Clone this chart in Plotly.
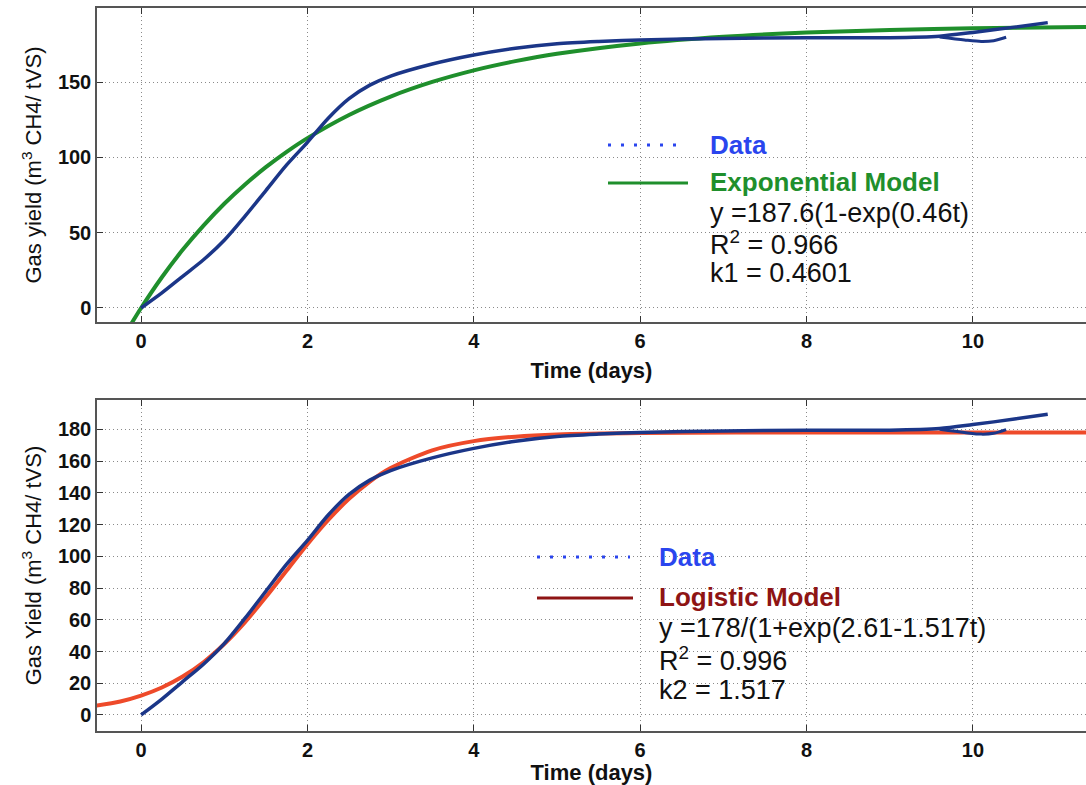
import plotly.graph_objects as go

# ---------------- data ----------------
data_t = [0, 0.25, 0.5, 0.75, 1.0, 1.25, 1.5, 1.75, 2.0, 2.25, 2.5, 2.75, 3.0, 3.5,
          4.0, 4.5, 5.0, 5.5, 6.0, 7.0, 8.0, 9.0, 9.6, 10.0, 10.5, 10.9]
data_y = [0, 10, 21, 32, 45, 61, 78, 95, 110, 126, 139, 148, 154, 162,
          168, 172.5, 175.5, 177, 178, 179, 179.5, 179.5, 180.5, 183, 186.5, 189.5]
# second (returning) branch of the recorded data near the end
data2_t = [9.6, 9.9, 10.1, 10.25, 10.4]
data2_y = [180.0, 178.0, 177.0, 177.5, 179.8]

exp_t = [-0.15, 0, 0.25, 0.5, 0.75, 1.0, 1.25, 1.5, 1.75, 2.0, 2.5, 3.0, 3.5, 4.0,
         4.5, 5.0, 6.0, 7.0, 8.0, 9.0, 10.0, 11.4]
exp_y = [-13.4, 0, 20.4, 38.6, 54.7, 69.2, 82.0, 93.5, 103.7, 112.8, 128.2, 140.4,
         150.1, 157.8, 163.9, 168.8, 175.7, 180.1, 182.9, 184.6, 185.7, 186.6]

log_t = [-0.6, -0.25, 0, 0.25, 0.5, 0.75, 1.0, 1.25, 1.5, 1.75, 2.0, 2.25, 2.5, 2.75,
         3.0, 3.5, 4.0, 4.5, 5.0, 6.0, 8.0, 11.4]
log_y = [5.4, 8.5, 12.2, 17.3, 24.2, 33.2, 44.7, 58.5, 74.3, 91.0, 107.6, 122.9,
         136.2, 147.1, 155.6, 166.8, 172.6, 175.4, 176.8, 177.7, 178.0, 178.0]

x_ticks = [0, 2, 4, 6, 8, 10]
y1_ticks = [0, 50, 100, 150]
y2_ticks = [0, 20, 40, 60, 80, 100, 120, 140, 160, 180]

top_legend = ["Data", "Exponential Model", "y =187.6(1-exp(0.46t)", "R<sup>2</sup> = 0.966", "k1 = 0.4601"]
bot_legend = ["Data", "Logistic Model", "y =178/(1+exp(2.61-1.517t)", "R<sup>2</sup> = 0.996", "k2 = 1.517"]

# ---------------- styling ----------------
W, H = 1086, 785
ML, MR, MT, MB = 97, 0, 8, 54
PW, PH = W - ML - MR, H - MT - MB

def px(x):
    return (x - ML) / PW

def py(y):
    return (H - MB - y) / PH

NAVY = "#1b3688"
GREEN = "#1f8f2c"
RED = "#ee4a2a"
DARKRED = "#8e1414"
BLUE = "#2a45ee"
FONT = "Liberation Sans, Arial, sans-serif"

fig = go.Figure()

def add_line(x, y, color, width, xa, ya):
    fig.add_trace(go.Scatter(x=x, y=y, mode="lines",
                             line=dict(color=color, width=width, shape="spline", smoothing=0.8),
                             xaxis=xa, yaxis=ya, showlegend=False, hoverinfo="x+y"))

add_line(exp_t, exp_y, GREEN, 4, "x", "y")
add_line(data_t, data_y, NAVY, 3.5, "x", "y")
add_line(data2_t, data2_y, NAVY, 3, "x", "y")
add_line(log_t, log_y, RED, 4, "x2", "y2")
add_line(data_t, data_y, NAVY, 3.5, "x2", "y2")
add_line(data2_t, data2_y, NAVY, 3, "x2", "y2")

base = dict(showline=True, linecolor="#555555", linewidth=1.5,
            ticks="inside", ticklen=6, tickcolor="#333333",
            showgrid=True, gridcolor="#8a8a8a", griddash="1px,3px", gridwidth=1,
            zeroline=False, automargin=False,
            tickfont=dict(family=FONT, size=20, color="#111111", weight="bold"))
xbase = dict(base, mirror="ticks")
ybase = dict(base, mirror=False)

xtitle = dict(text="<b>Time (days)</b>", font=dict(family=FONT, size=22, color="#111111"), standoff=12)

top_y0 = py(322)
bot_y1 = py(400)

ytitle_font = dict(family=FONT, size=22, color="#111111")

fig.update_layout(
    width=W, height=H, paper_bgcolor="white", plot_bgcolor="white",
    margin=dict(l=ML, r=MR, t=MT, b=MB),
    xaxis=dict(domain=[0, 1], anchor="y", range=[-0.53, 11.36], tickvals=x_ticks,
               title=xtitle, **xbase),
    yaxis=dict(domain=[top_y0, 1], anchor="x", range=[-9.3, 199.2], tickvals=y1_ticks,
               title=dict(text="Gas yield (m<sup>3</sup> CH4/ tVS)", font=ytitle_font, standoff=10),
               **ybase),
    xaxis2=dict(domain=[0, 1], anchor="y2", range=[-0.53, 11.36], tickvals=x_ticks,
                title=xtitle, **xbase),
    yaxis2=dict(domain=[0, bot_y1], anchor="x2", range=[-10.1, 198.5], tickvals=y2_ticks,
                title=dict(text="Gas Yield (m<sup>3</sup> CH4/ tVS)", font=ytitle_font, standoff=10),
                **ybase),
)

shapes = []
annos = []

def legend_block(x_line0, x_line1, x_text, ys, texts, model_color, data_y_px, model_y_px):
    shapes.append(dict(type="line", xref="paper", yref="paper",
                       x0=px(x_line0), x1=px(x_line1), y0=py(data_y_px), y1=py(data_y_px),
                       line=dict(color=BLUE, width=3, dash="3px,10px")))
    shapes.append(dict(type="line", xref="paper", yref="paper",
                       x0=px(x_line0), x1=px(x_line1 + 3), y0=py(model_y_px), y1=py(model_y_px),
                       line=dict(color=model_color, width=3)))
    colors = [BLUE, model_color, "#111111", "#111111", "#111111"]
    for i, (txt, yy) in enumerate(zip(texts, ys)):
        bold = i < 2
        annos.append(dict(xref="paper", yref="paper", x=px(x_text), y=py(yy),
                          xanchor="left", yanchor="middle", showarrow=False,
                          text=("<b>%s</b>" % txt) if bold else txt,
                          font=dict(family=FONT, size=27 if not bold else 26, color=colors[i])))

legend_block(608, 685, 708, [145, 182, 213, 243, 273], top_legend, GREEN, 145, 183)
legend_block(537, 630, 657, [557, 597, 628, 659, 690], bot_legend, DARKRED, 557, 598)

fig.update_layout(shapes=shapes, annotations=annos)

fig.write_html("out.html", config={"displayModeBar": False},
               post_script="document.body.style.margin='0';document.body.style.overflow='hidden';")
